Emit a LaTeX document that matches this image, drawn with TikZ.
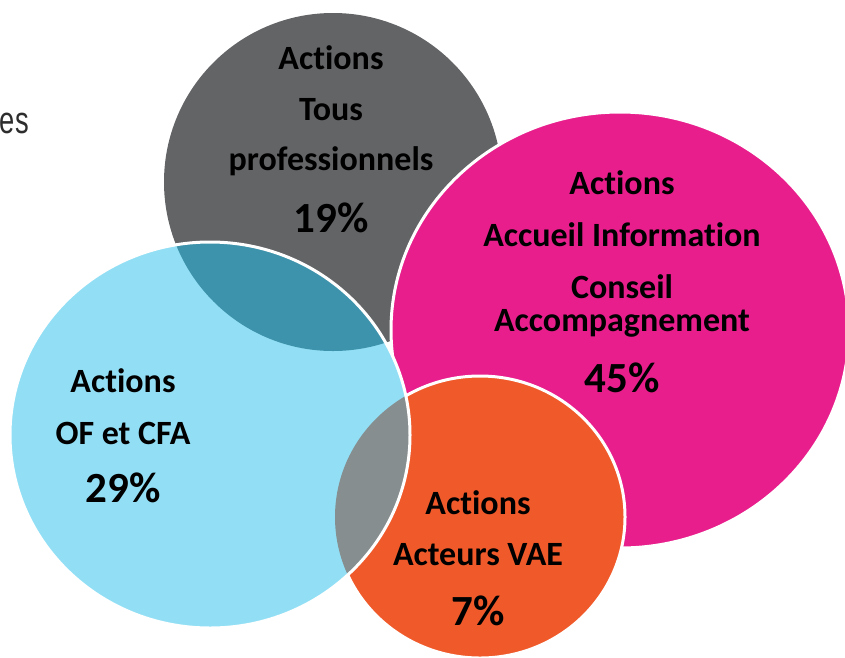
\documentclass[tikz,border=0pt]{standalone}
\usepackage{fontspec}
\setmainfont[Ligatures=NoCommon]{Carlito}
\newfontfamily\sidefont{Liberation Sans}
\usetikzlibrary{positioning}

\definecolor{greybub}{RGB}{99,100,102}
\definecolor{pinkbub}{RGB}{232,30,140}
\definecolor{bluebub}{RGB}{146,223,245}
\definecolor{orangebub}{RGB}{240,90,42}
\definecolor{tealmix}{RGB}{61,147,171}
\definecolor{greymix}{RGB}{135,142,143}
\definecolor{sidegrey}{RGB}{45,45,45}

\tikzset{
  lbl/.style={font=\bfseries\fontsize{34}{36}\selectfont, anchor=base, inner sep=0pt},
  pct/.style={font=\bfseries\fontsize{43}{46}\selectfont, anchor=base, inner sep=0pt},
  rim/.style={draw=white, line width=3pt}
}

\begin{document}
\begin{tikzpicture}[x=1pt,y=-1pt]
	\useasboundingbox (0,0) rectangle (845,657);
	% bubbles
	\fill[greybub] (333,182) circle (169);
	\filldraw[fill=pinkbub, rim] (620,330) ellipse (229 and 218);
	\filldraw[fill=orangebub, rim] (480,517) ellipse (145 and 141);
	\fill[bluebub] (210,435) ellipse (200 and 193);
	% overlaps
	\begin{scope}
		\clip (333,182) circle (169);
		\fill[tealmix] (210,435) ellipse (200 and 193);
	\end{scope}
	\begin{scope}
		\clip (480,517) ellipse (145 and 141);
		\fill[greymix] (210,435) ellipse (200 and 193);
	\end{scope}
	\draw[rim] (210,435) ellipse (200 and 193);
	% labels
	\node[anchor=base east, inner sep=0pt, text=sidegrey, xscale=0.72,
		font=\sidefont\fontsize{38}{40}\selectfont] (es) at (29,133) {es};

	\node[lbl] (tp1) at (331,69) {Actions};
	\node[lbl] (tp2) at (331,120) {Tous};
	\node[lbl] (tp3) at (331,170) {professionnels};
	\node[pct] (tp4) at (331,232) {19\%};

	\node[lbl] (aic1) at (622,194) {Actions};
	\node[lbl] (aic2) at (622,246) {Accueil Information};
	\node[lbl] (aic3) at (622,298) {Conseil};
	\node[lbl] (aic4) at (622,331) {Accompagnement};
	\node[pct] (aic5) at (622,392) {45\%};

	\node[lbl] (of1) at (123,392) {Actions};
	\node[lbl] (of2) at (123,444) {OF et CFA};
	\node[pct] (of3) at (123,502) {29\%};

	\node[lbl] (vae1) at (478,514) {Actions};
	\node[lbl] (vae2) at (478,565) {Acteurs VAE};
	\node[pct] (vae3) at (478,625) {7\%};
\end{tikzpicture}
\end{document}
